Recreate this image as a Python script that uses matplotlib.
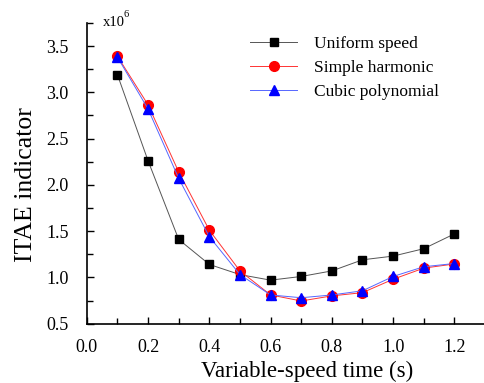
import matplotlib
matplotlib.use('Agg')
import matplotlib.pyplot as plt
from matplotlib.ticker import MultipleLocator, FormatStrFormatter

# 数据 (x10^6)
times = [0.1, 0.2, 0.3, 0.4, 0.5, 0.6, 0.7, 0.8, 0.9, 1.0, 1.1, 1.2]
uniform_speed = [3.19, 2.26, 1.41, 1.14, 1.03, 0.97, 1.01, 1.07, 1.19, 1.23, 1.31, 1.47]
simple_harmonic = [3.39, 2.865, 2.14, 1.51, 1.07, 0.81, 0.745, 0.80, 0.835, 0.98, 1.10, 1.145]
cubic_polynomial = [3.38, 2.82, 2.07, 1.44, 1.03, 0.81, 0.78, 0.81, 0.855, 1.01, 1.115, 1.15]

plt.rcParams['font.family'] = ['Liberation Serif', 'DejaVu Serif']

fig = plt.figure(figsize=(4.85, 3.83), dpi=100)
ax = fig.add_axes([0.179, 0.155, 0.821, 0.785])

ax.plot(times, uniform_speed, color='#555555', lw=0.7, marker='s', ms=6,
        mfc='black', mec='black', label='Uniform speed')
ax.plot(times, simple_harmonic, color='#ff3333', lw=0.7, marker='o', ms=7,
        mfc='red', mec='red', label='Simple harmonic')
ax.plot(times, cubic_polynomial, color='#5566ff', lw=0.7, marker='^', ms=7,
        mfc='blue', mec='blue', label='Cubic polynomial')

ax.set_xlim(0, 1.3)
ax.set_ylim(0.5, 3.75)
ax.set_xticks([0.0, 0.2, 0.4, 0.6, 0.8, 1.0, 1.2])
ax.set_yticks([0.5, 1.0, 1.5, 2.0, 2.5, 3.0, 3.5])
ax.xaxis.set_minor_locator(MultipleLocator(0.1))
ax.yaxis.set_minor_locator(MultipleLocator(0.25))
ax.xaxis.set_major_formatter(FormatStrFormatter('%.1f'))
ax.yaxis.set_major_formatter(FormatStrFormatter('%.1f'))
ax.tick_params(which='both', direction='in', labelsize=13, width=1)
ax.tick_params(which='major', length=5)
ax.tick_params(which='minor', length=4)
ax.tick_params(axis='x', which='major', pad=11)
ax.tick_params(axis='y', which='major', pad=13)

for side in ['top', 'right']:
    ax.spines[side].set_visible(False)
for side in ['left', 'bottom']:
    ax.spines[side].set_linewidth(1.2)

ax.set_xlabel('Variable-speed time (s)', fontsize=16.5)
ax.set_ylabel('ITAE indicator', fontsize=18.5)
# 标签位置略偏（与原图一致）
ax.xaxis.set_label_coords(0.553, -0.125)
ax.yaxis.set_label_coords(-0.125, 0.461)

fig.text(103 / 485, 1 - 26 / 383, 'x10', fontsize=10.5)
fig.text(124 / 485, 1 - 17 / 383, '6', fontsize=7.5)

ax.legend(loc='upper left', bbox_to_anchor=(0.41, 0.958), frameon=False,
          fontsize=12.5, handlelength=2.7, labelspacing=0.45, handletextpad=1.0,
          borderpad=0, borderaxespad=0)

plt.savefig('out.png', dpi=100)
plt.close()
